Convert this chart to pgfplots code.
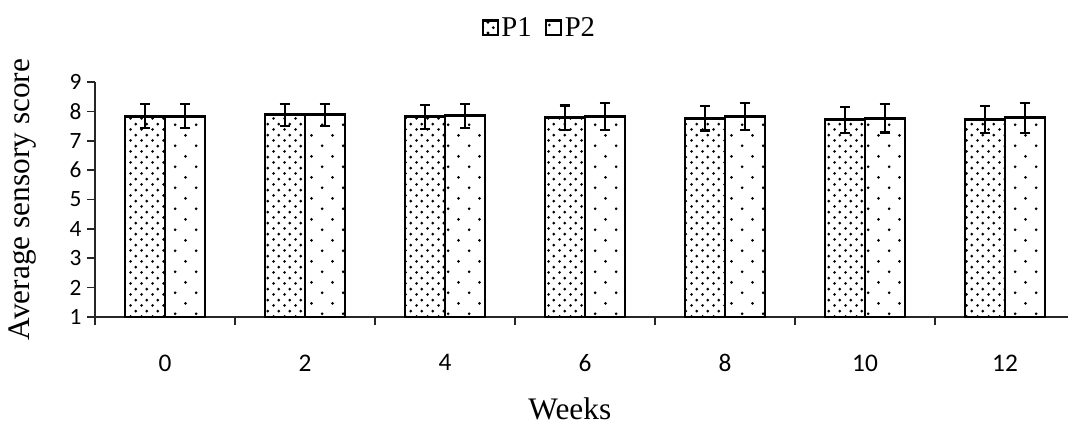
\documentclass[border=0pt]{standalone}
\usepackage{fontspec}
\setmainfont{Liberation Serif}
\newfontfamily\timesf{Liberation Serif}
\newfontfamily\calibri{Carlito}
\usepackage{pgfplots}
\usepackage{pgfplotstable}
\pgfplotsset{compat=1.18}
\usetikzlibrary{patterns.meta}

\tikzdeclarepattern{
  name=densedots, type=uncolored,
  bottom left={(0pt,0pt)}, top right={(8pt,8pt)}, tile size={(8pt,8pt)},
  code={\fill (2pt,2pt) circle (1.15pt); \fill (6pt,6pt) circle (1.15pt);}
}
\tikzdeclarepattern{
  name=sparsedots, type=uncolored,
  bottom left={(0pt,0pt)}, top right={(16pt,16pt)}, tile size={(16pt,16pt)},
  code={\fill (4pt,4pt) circle (1.15pt); \fill (12pt,12pt) circle (1.15pt);}
}

\pgfplotstableread{
x y e
0 7.83 0.41
1 7.88 0.37
2 7.81 0.40
3 7.78 0.42
4 7.77 0.42
5 7.71 0.44
6 7.72 0.45
}\Pone
\pgfplotstableread{
x y e
0 7.83 0.41
1 7.88 0.37
2 7.85 0.41
3 7.83 0.45
4 7.82 0.46
5 7.77 0.49
6 7.78 0.51
}\Ptwo

\begin{document}
\begin{tikzpicture}
\begin{axis}[
  scale only axis, width=729.75pt, height=176.25pt,
  at={(0,0)}, anchor=south west,
  xmin=-0.5, xmax=6.45, ymin=1, ymax=9,
  ybar=0pt, bar width=30pt,
  axis x line*=bottom, axis y line*=left,
  axis line style={-, line width=1.3pt, black!85},
  ytick={1,...,9},
  xtick={0,...,6}, xticklabels={0,2,4,6,8,10,12},
  minor xtick={-0.5,0.5,1.5,2.5,3.5,4.5,5.5},
  tick align=outside,
  major tick length=6pt, minor tick length=6pt,
  major x tick style={draw=none},
  every tick/.style={line width=1.3pt, black!85},
  minor x tick style={line width=1.3pt, black!85},
  /pgf/number format/assume math mode=true,
  yticklabel style={font=\calibri\fontsize{17.5}{20}\selectfont, inner sep=0pt, xshift=-4pt},
  xticklabel style={font=\calibri\fontsize{19}{22}\selectfont, inner sep=0pt, anchor=north, yshift=-22pt},
  ylabel={Average sensory score},
  ylabel style={font=\timesf\fontsize{23.5}{28}\selectfont, at={(axis description cs:-0.074,0.5)}, anchor=center, inner sep=0pt},
  xlabel={Weeks},
  xlabel style={font=\timesf\fontsize{23.5}{28}\selectfont, at={(axis description cs:0.488,-0.39)}, anchor=center, inner sep=0pt},
  legend style={draw=none, fill=none, font=\timesf\fontsize{21.5}{25}\selectfont,
    at={(0.457,1.23)}, anchor=center,
    /tikz/every even column/.append style={column sep=8pt}},
  legend columns=2,
  legend image code/.code={\draw[#1, line width=1.6pt] (0pt,-5.6pt) rectangle (11.25pt,5.6pt);},
]
\addplot[draw=black, line width=2.2pt, pattern={densedots}, pattern color=black,
  error bars/.cd, y dir=both, y explicit, error mark=-,
  error bar style={line width=1.6pt, black},
  error mark options={rotate=90, mark size=4pt, line width=1.6pt, black}]
  table[x=x, y=y, y error=e]{\Pone};
\addlegendentry{P1}
\addplot[draw=black, line width=2.2pt, pattern={sparsedots}, pattern color=black,
  error bars/.cd, y dir=both, y explicit, error mark=-,
  error bar style={line width=1.6pt, black},
  error mark options={rotate=90, mark size=4pt, line width=1.6pt, black}]
  table[x=x, y=y, y error=e]{\Ptwo};
\addlegendentry{P2}
\end{axis}
\pgfresetboundingbox
\useasboundingbox (-71.25pt,-81pt) rectangle (731.25pt,237.75pt);
\end{tikzpicture}
\end{document}
